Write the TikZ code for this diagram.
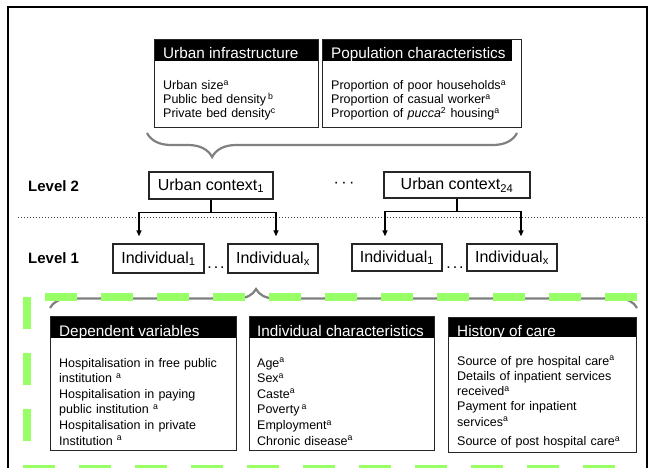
\documentclass[tikz,border=0pt]{standalone}
\usepackage{fontspec}
\setmainfont{Liberation Sans}
\usetikzlibrary{decorations.pathreplacing,arrows.meta}
\definecolor{lgreen}{HTML}{99FF66}
\definecolor{bracegrey}{HTML}{808080}
\begin{document}
\begin{tikzpicture}[x=1pt,y=-1pt,
  framebox/.style={draw=black!85,line width=1.3pt,inner sep=0pt,anchor=north west},
  hdrtext/.style={anchor=base west,text=white,inner sep=0pt,font=\fontsize{15.3}{18}\selectfont},
  bodytop/.style={anchor=base west,align=left,inner sep=0pt,text width=185pt,font=\fontsize{12.5}{14}\selectfont},
  bodybot/.style={anchor=base west,align=left,inner sep=0pt,text width=178pt,font=\fontsize{12.5}{15.6}\selectfont},
  ctx/.style={draw=black!85,line width=1.3pt,inner sep=0pt,font=\fontsize{16}{19}\selectfont},
  conn/.style={line width=1.3pt,-{Triangle[length=6pt,width=5pt]}},
  brc/.style={draw=bracegrey,line width=2.2pt,decorate},
  grn/.style={draw=lgreen,line width=8pt,dash pattern=on 32pt off 24pt},
  lvl/.style={anchor=west,inner sep=0pt,font=\bfseries\fontsize{15}{18}\selectfont},
  dots/.style={inner sep=0pt,font=\fontsize{16}{19}\selectfont}
]
\clip (0,0) rectangle (651,468);
\fill[white] (0,0) rectangle (651,468);
\draw[line width=2pt] (8,7) rectangle (647,520);

% ---- top boxes
\fill[black] (154,39) rectangle (318,61);
\node[framebox,minimum width=164pt,minimum height=88pt] (uinf) at (154,39) {};
\node[hdrtext] (uinft) at (163,59) {Urban infrastructure};
\node[bodytop] (uinfb) at (163,90) {Urban size\textsuperscript{a}\\
Public bed density\,\textsuperscript{b}\\
Private bed density\textsuperscript{c}};

\fill[black] (322,39) rectangle (512,61);
\node[framebox,minimum width=199pt,minimum height=88pt] (popc) at (322,39) {};
\node[hdrtext] (popct) at (331,59) {Population characteristics};
\node[bodytop] (popcb) at (331,90) {Proportion of poor households\textsuperscript{a}\\
Proportion of casual worker\textsuperscript{a}\\
Proportion of \textit{pucca}\textsuperscript{2} housing\textsuperscript{a}};

% top brace
\draw[brc,decoration={brace,mirror,amplitude=24pt,aspect=0.176}] (147,133) -- (517,133);

% ---- levels
\node[lvl] (lv2) at (28,186) {Level 2};
\node[lvl] (lv1) at (28,258) {Level 1};

\node[ctx,minimum width=124pt,minimum height=27pt] (uc1) at (211,185.5) {Urban context\textsubscript{1}};
\node[ctx,minimum width=146pt,minimum height=26pt] (uc24) at (457,185) {Urban context\textsubscript{24}};
\node[dots] (cdots) at (344,185) {\textperiodcentered\hspace{2.5pt}\textperiodcentered\hspace{2.5pt}\textperiodcentered};

\draw[dotted,line width=1pt,black!75] (18,217) -- (645,217);

\node[ctx,minimum width=91pt,minimum height=29pt] (i11) at (158.5,258.5) {Individual\textsubscript{1}};
\node[ctx,minimum width=90pt,minimum height=29pt] (i1x) at (273,258.5) {Individual\textsubscript{x}};
\node[dots,anchor=base] (d1) at (216,268) {.\hspace{2pt}.\hspace{2pt}.};
\node[ctx,minimum width=90pt,minimum height=27pt] (i21) at (397,257.5) {Individual\textsubscript{1}};
\node[ctx,minimum width=90pt,minimum height=27pt] (i2x) at (512,257.5) {Individual\textsubscript{x}};
\node[dots,anchor=base] (d2) at (455,268) {.\hspace{2pt}.\hspace{2pt}.};

\draw[conn] (uc1.south) -- ++(0,13) -| ([xshift=-19.5pt,yshift=7pt]i11.north);
\draw[conn] ([yshift=-13pt]uc1.south) -| ([xshift=3pt,yshift=7pt]i1x.north);
\draw[conn] (uc24.south) -- ++(0,13) -| ([xshift=-12pt,yshift=7pt]i21.north);
\draw[conn] ([yshift=-13pt]uc24.south) -| ([xshift=9pt,yshift=7pt]i2x.north);

% ---- bottom brace and green frame
\draw[brc,decoration={brace,amplitude=19pt,aspect=0.351}] (50,308) -- (637,308);
\draw[grn] (27,297) -- (27,520);
\draw[grn] (45,297) -- (637,297);
\draw[grn] (23,469) -- (637,469);

% ---- bottom boxes
\fill[black] (50,316) rectangle (236,338);
\node[framebox,minimum width=186pt,minimum height=134pt] (dep) at (50,316) {};
\node[hdrtext] (dept) at (59,336) {Dependent variables};
\node[bodybot] (depb) at (59,367) {Hospitalisation in free public\\
institution \textsuperscript{a}\\
Hospitalisation in paying\\
public institution \textsuperscript{a}\\
Hospitalisation in private\\
Institution \textsuperscript{a}};

\fill[black] (249,316) rectangle (434,338);
\node[framebox,minimum width=185pt,minimum height=134pt] (ind) at (249,316) {};
\node[hdrtext] (indt) at (257,336) {Individual characteristics};
\node[bodybot] (indb) at (257,367) {Age\textsuperscript{a}\\
Sex\textsuperscript{a}\\
Caste\textsuperscript{a}\\
Poverty\,\textsuperscript{a}\\
Employment\textsuperscript{a}\\
Chronic disease\textsuperscript{a}};

\fill[black] (448,317) rectangle (636,337);
\node[framebox,minimum width=188pt,minimum height=135pt] (hist) at (448,317) {};
\node[hdrtext] (histt) at (457,336) {History of care};
\node[bodybot,font=\fontsize{12.5}{15.3}\selectfont] (histb) at (457,365) {Source of pre hospital care\textsuperscript{a}\\
Details of inpatient services\\
received\textsuperscript{a}\\
Payment for inpatient\\
services\textsuperscript{a}\\[4pt]
Source of post hospital care\textsuperscript{a}};
\end{tikzpicture}
\end{document}
